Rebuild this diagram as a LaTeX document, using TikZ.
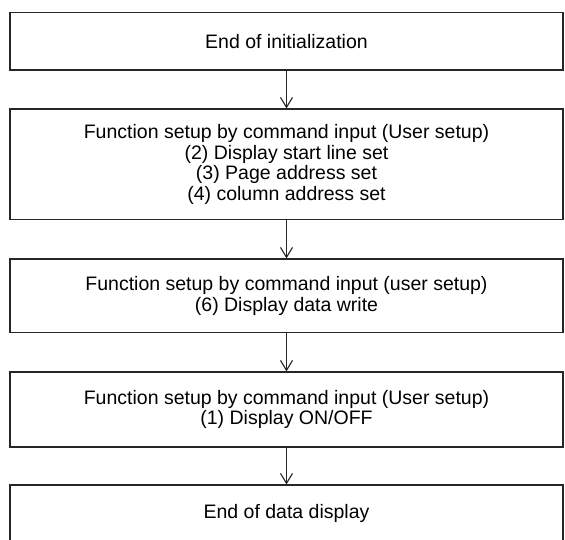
\documentclass[tikz,border=0pt]{standalone}
\usepackage{fontspec}
\setmainfont{Liberation Sans}
\usetikzlibrary{arrows.meta}
\begin{document}
\begin{tikzpicture}[x=1pt,y=1pt,
  box/.style={draw=black!85, line width=1.1pt, rectangle, minimum width=553pt,
    inner sep=0pt, align=center, font=\fontsize{19.5}{20.5}\selectfont},
  arr/.style={draw=black!85, line width=1.1pt,
    -{Straight Barb[length=10pt,width=12pt,line width=1.1pt]}}]
\useasboundingbox (0,0) rectangle (565,539);
\clip (0,0) rectangle (565,539);
\node[box, minimum height=57.5pt] (b1) at (286.5,497.75) {End of initialization};
\node[box, minimum height=110.5pt] (b2) at (286.5,374.75) {Function setup by command input (User setup)\\(2) Display start line set\\(3) Page address set\\(4) column address set};
\node[box, minimum height=73.5pt] (b3) at (286.5,243.25) {Function setup by command input (user setup)\\(6) Display data write};
\node[box, minimum height=75pt] (b4) at (286.5,129.5) {Function setup by command input (User setup)\\(1) Display ON/OFF};
\node[box, minimum height=57.5pt] (b5) at (286.5,25.25) {End of data display};
\draw[arr] (b1) -- (b2);
\draw[arr] (b2) -- (b3);
\draw[arr] (b3) -- (b4);
\draw[arr] (b4) -- (b5);
\end{tikzpicture}
\end{document}
